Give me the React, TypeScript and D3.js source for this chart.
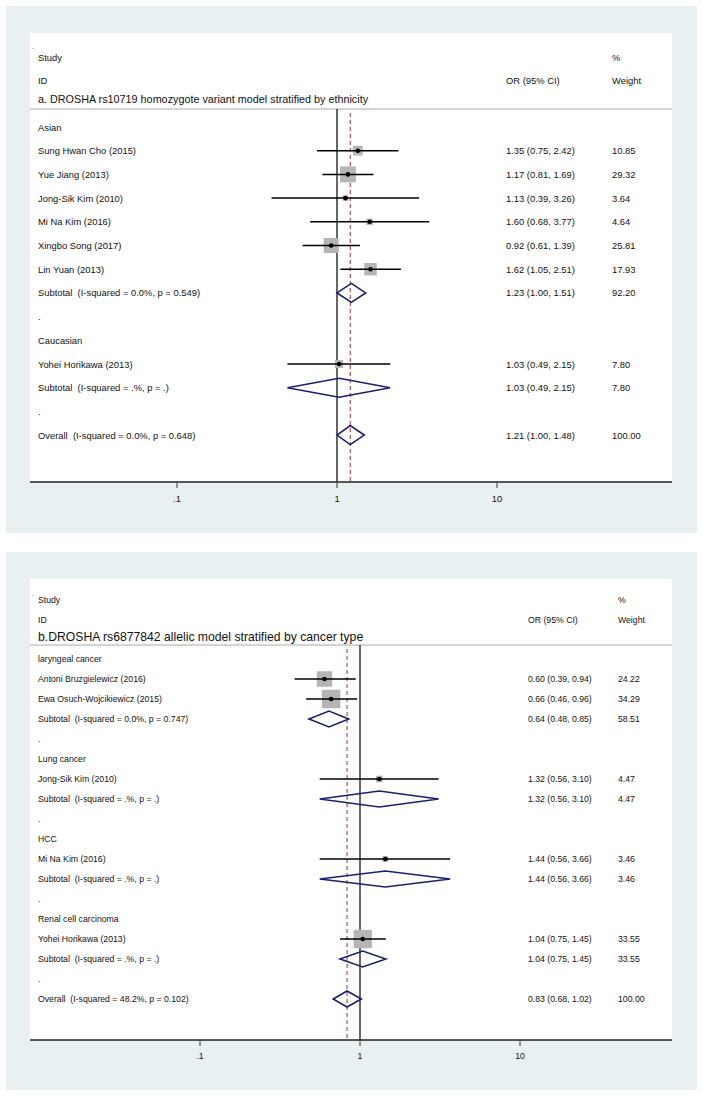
import React from "react";
import * as d3 from "d3";

// ---------- Panel A data ----------
const aTitle = "a. DROSHA rs10719 homozygote variant model stratified by ethnicity";
const aLabels = [
  "Asian",
  "Sung Hwan Cho (2015)",
  "Yue Jiang (2013)",
  "Jong-Sik Kim (2010)",
  "Mi Na Kim (2016)",
  "Xingbo Song (2017)",
  "Lin Yuan (2013)",
  "Subtotal  (I-squared = 0.0%, p = 0.549)",
  ".",
  "Caucasian",
  "Yohei Horikawa (2013)",
  "Subtotal  (I-squared = .%, p = .)",
  ".",
  "Overall  (I-squared = 0.0%, p = 0.648)",
];
const aTypes = ["group", "study", "study", "study", "study", "study", "study", "subtotal", "blank", "group", "study", "subtotal", "blank", "overall"];
const aOR = [null, 1.35, 1.17, 1.13, 1.6, 0.92, 1.62, 1.23, null, null, 1.03, 1.03, null, 1.21];
const aLow = [null, 0.75, 0.81, 0.39, 0.68, 0.61, 1.05, 1.0, null, null, 0.49, 0.49, null, 1.0];
const aHigh = [null, 2.42, 1.69, 3.26, 3.77, 1.39, 2.51, 1.51, null, null, 2.15, 2.15, null, 1.48];
const aWeight = [null, 10.85, 29.32, 3.64, 4.64, 25.81, 17.93, 92.2, null, null, 7.8, 7.8, null, 100.0];

// ---------- Panel B data ----------
const bTitle = "b.DROSHA rs6877842 allelic model stratified by cancer type";
const bLabels = [
  "laryngeal cancer",
  "Antoni Bruzgielewicz (2016)",
  "Ewa Osuch-Wojcikiewicz (2015)",
  "Subtotal  (I-squared = 0.0%, p = 0.747)",
  ".",
  "Lung cancer",
  "Jong-Sik Kim (2010)",
  "Subtotal  (I-squared = .%, p = .)",
  ".",
  "HCC",
  "Mi Na Kim (2016)",
  "Subtotal  (I-squared = .%, p = .)",
  ".",
  "Renal cell carcinoma",
  "Yohei Horikawa (2013)",
  "Subtotal  (I-squared = .%, p = .)",
  ".",
  "Overall  (I-squared = 48.2%, p = 0.102)",
];
const bTypes = ["group", "study", "study", "subtotal", "blank", "group", "study", "subtotal", "blank", "group", "study", "subtotal", "blank", "group", "study", "subtotal", "blank", "overall"];
const bOR = [null, 0.6, 0.66, 0.64, null, null, 1.32, 1.32, null, null, 1.44, 1.44, null, null, 1.04, 1.04, null, 0.83];
const bLow = [null, 0.39, 0.46, 0.48, null, null, 0.56, 0.56, null, null, 0.56, 0.56, null, null, 0.75, 0.75, null, 0.68];
const bHigh = [null, 0.94, 0.96, 0.85, null, null, 3.1, 3.1, null, null, 3.66, 3.66, null, null, 1.45, 1.45, null, 1.02];
const bWeight = [null, 24.22, 34.29, 58.51, null, null, 4.47, 4.47, null, null, 3.46, 3.46, null, null, 33.55, 33.55, null, 100.0];

const tickValues = [0.1, 1, 10];
const tickLabels = [".1", "1", "10"];

const FONT = "'Liberation Sans', Arial, Helvetica, sans-serif";
const BG = "#e9f0f2";
const NAVY = "#1c1f6e";
const RED = "#9a2e32";
const BOX = "#b5b5b5";
const INK = "#111";

type PanelProps = {
  title: string;
  labels: string[];
  types: string[];
  or: (number | null)[];
  low: (number | null)[];
  high: (number | null)[];
  weight: (number | null)[];
  outerTop: number;
  outerBottom: number;
  whiteTop: number;
  axisY: number;
  dotY: number;
  studyY: number;
  idY: number;
  titleY: number;
  lineY: number;
  firstRowY: number;
  pitch: number;
  xRange: [number, number];
  ciX: number;
  wX: number;
  titleSize: number;
  fontSize: number;
  diamondHalf: number;
  boxK: number;
};

function Panel(p: PanelProps) {
  const x = d3.scaleLog().domain([0.1, 10]).range(p.xRange);
  const y = (i: number) => p.firstRowY + i * p.pitch;
  const left = 30;
  const right = 672;
  const overallIdx = p.types.indexOf("overall");
  const overallOR = p.or[overallIdx] as number;
  const diamond = (i: number) => {
    const cy = y(i);
    const h = p.diamondHalf;
    const lo = x(p.low[i] as number);
    const hi = x(p.high[i] as number);
    const m = x(p.or[i] as number);
    return `M${lo},${cy} L${m},${cy - h} L${hi},${cy} L${m},${cy + h} Z`;
  };
  const fmt = (v: number) => v.toFixed(2);
  return (
    <g fontFamily={FONT} fill={INK}>
      <rect x={6} y={p.outerTop} width={691} height={p.outerBottom - p.outerTop} fill={BG} />
      <rect x={left} y={p.whiteTop} width={right - left} height={p.axisY - p.whiteTop} fill="#ffffff" />
      <text x={32} y={p.dotY} fontSize={7} fill="#555" dominantBaseline="central">.</text>
      <text x={38} y={p.studyY} fontSize={p.fontSize} dominantBaseline="central">Study</text>
      <text x={38} y={p.idY} fontSize={p.fontSize} dominantBaseline="central">ID</text>
      <text x={p.ciX} y={p.idY} fontSize={p.fontSize} dominantBaseline="central">OR (95% CI)</text>
      <text x={p.wX} y={p.studyY} fontSize={p.fontSize} dominantBaseline="central">%</text>
      <text x={p.wX} y={p.idY} fontSize={p.fontSize} dominantBaseline="central">Weight</text>
      <text x={38} y={p.titleY} fontSize={p.titleSize} dominantBaseline="central">{p.title}</text>
      <line x1={left} x2={right} y1={p.lineY} y2={p.lineY} stroke="#a8a8a8" strokeWidth={1} />
      {/* null line */}
      <line x1={x(1)} x2={x(1)} y1={p.lineY} y2={p.axisY} stroke="#000" strokeWidth={1.2} />
      {/* overall dashed */}
      <line x1={x(overallOR)} x2={x(overallOR)} y1={p.lineY + 4} y2={p.axisY} stroke={RED} strokeWidth={1} strokeDasharray="4,3" />
      {p.labels.map((lab, i) => (
        <text key={"l" + i} x={38} y={y(i)} fontSize={p.fontSize} dominantBaseline="central" style={{ whiteSpace: "pre" }}>
          {lab}
        </text>
      ))}
      {p.types.map((t, i) => {
        if (t !== "study") return null;
        const s = p.boxK * Math.sqrt(p.weight[i] as number);
        const cx = x(p.or[i] as number);
        return (
          <g key={"s" + i}>
            <rect x={cx - s / 2} y={y(i) - s / 2} width={s} height={s} fill={BOX} />
            <line x1={x(p.low[i] as number)} x2={x(p.high[i] as number)} y1={y(i)} y2={y(i)} stroke="#000" strokeWidth={1.5} />
            <circle cx={cx} cy={y(i)} r={2.3} fill="#000" />
          </g>
        );
      })}
      {p.types.map((t, i) =>
        t === "subtotal" || t === "overall" ? (
          <path key={"d" + i} d={diamond(i)} fill="none" stroke={NAVY} strokeWidth={1.6} strokeLinejoin="miter" />
        ) : null
      )}
      {p.types.map((t, i) =>
        p.or[i] != null ? (
          <g key={"v" + i}>
            <text x={p.ciX} y={y(i)} fontSize={p.fontSize} dominantBaseline="central">
              {`${fmt(p.or[i] as number)} (${fmt(p.low[i] as number)}, ${fmt(p.high[i] as number)})`}
            </text>
            <text x={p.wX} y={y(i)} fontSize={p.fontSize} dominantBaseline="central">
              {fmt(p.weight[i] as number)}
            </text>
          </g>
        ) : null
      )}
      {/* axis */}
      <line x1={left} x2={right} y1={p.axisY} y2={p.axisY} stroke="#222" strokeWidth={1.5} />
      {tickValues.map((v, i) => (
        <g key={"t" + i}>
          <line x1={x(v)} x2={x(v)} y1={p.axisY} y2={p.axisY + 6} stroke="#555" strokeWidth={1.2} />
          <text x={x(v)} y={p.axisY + 16} fontSize={p.fontSize} textAnchor="middle" dominantBaseline="central">
            {tickLabels[i]}
          </text>
        </g>
      ))}
    </g>
  );
}

export default function App() {
  return (
    <svg width={703} height={1103} style={{ position: "absolute", left: 0, top: 0, background: "#fff" }}>
      <Panel
        title={aTitle}
        labels={aLabels}
        types={aTypes}
        or={aOR}
        low={aLow}
        high={aHigh}
        weight={aWeight}
        outerTop={6}
        outerBottom={533}
        whiteTop={33}
        axisY={482}
        dotY={46}
        studyY={57}
        idY={80}
        titleY={99}
        lineY={109}
        firstRowY={127}
        pitch={23.7}
        xRange={[177, 497]}
        ciX={506}
        wX={612}
        titleSize={10.8}
        fontSize={9.4}
        diamondHalf={9.5}
        boxK={2.95}
      />
      <Panel
        title={bTitle}
        labels={bLabels}
        types={bTypes}
        or={bOR}
        low={bLow}
        high={bHigh}
        weight={bWeight}
        outerTop={552}
        outerBottom={1090}
        whiteTop={579}
        axisY={1040}
        dotY={593}
        studyY={600}
        idY={620}
        titleY={637}
        lineY={645}
        firstRowY={659}
        pitch={20}
        xRange={[200, 520]}
        ciX={528}
        wX={618}
        titleSize={12.2}
        fontSize={8.7}
        diamondHalf={8}
        boxK={3.15}
      />
    </svg>
  );
}
